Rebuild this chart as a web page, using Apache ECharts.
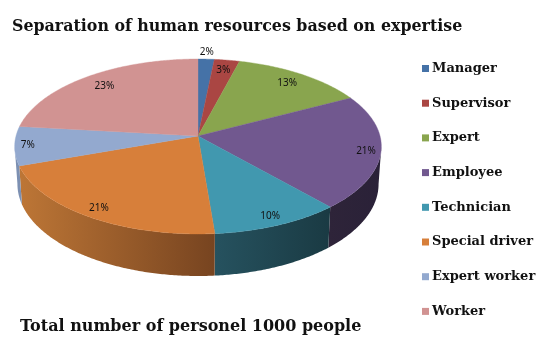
<!DOCTYPE html>
<html>
<head>
<meta charset="utf-8">
<style>
  html, body { margin: 0; padding: 0; background: #fff; }
  #chart { width: 548px; height: 362px; }
</style>
<script src="https://cdn.jsdelivr.net/npm/echarts@6/dist/echarts.min.js"></script>
</head>
<body>
<div id="chart"></div>
<script>
const categories = ['Manager', 'Supervisor', 'Expert', 'Employee', 'Technician', 'Special driver', 'Expert worker', 'Worker']
// people per group, total 1000
const people = [16, 25, 132, 212, 102, 209, 72, 232]
const chartTitle = 'Separation of human resources based on expertise'
const footNote = 'Total number of personel 1000 people'

const colors = ['#4572A7', '#AA4643', '#89A54E', '#71588F', '#4198AF', '#D77F3A', '#93A9CF', '#D19392']
const wallLeft = ['#39597f', '#7e3432', '#66793a', '#2e2439', '#26525f', '#bd7636', '#7c90b2', '#9c6e6d']
const wallRight = ['#39597f', '#7e3432', '#66793a', '#2a2138', '#1a3a43', '#774420', '#7c90b2', '#9c6e6d']
// how far along the radius each percent label sits
const labelRadius = [1.1, 0.86, 0.85, 0.92, 0.91, 0.91, 0.93, 0.83]

const total = people.reduce((a, b) => a + b, 0)

// tilted disc with a bit of perspective
const cx = 198
const cy = 136
const A = 182
const B = 86.2
const K = 0.12
const depth = 37

const project = (theta, r, low) => {
    const u = r * Math.sin(theta)
    const v = r * Math.cos(theta)
    const w = 1 + K * v
    const shrink = low ? 0.985 : 1
    return [
        cx + shrink * A * u / w,
        cy - B * v / w + (low ? depth / w : 0)
    ]
}

const arc = (from, to, r, low) => {
    const pts = []
    const n = Math.max(2, Math.ceil((to - from) / 0.01))
    for (let i = 0; i <= n; i++) {
        pts.push(project(from + (to - from) * i / n, r, low))
    }
    return pts
}

// rim stays visible between these two angles
const wallFrom = Math.acos(-K)
const wallTo = 2 * Math.PI - wallFrom

const makeSlice = (i) => (params, api) => {
    const before = people.slice(0, i).reduce((a, b) => a + b, 0)
    const start = before / total * 2 * Math.PI
    const end = (before + api.value(0)) / total * 2 * Math.PI
    const mid = (start + end) / 2
    const children = []

    const a = Math.max(start, wallFrom)
    const b = Math.min(end, wallTo)
    if (b > a) {
        const upper = arc(a, b, 1, false)
        const lower = arc(a, b, 1, true).reverse()
        const xs = upper.concat(lower).map(p => p[0])
        children.push({
            type: 'polygon',
            shape: { points: upper.concat(lower) },
            style: {
                fill: new echarts.graphic.LinearGradient(
                    Math.min(...xs), 0, Math.max(...xs), 0,
                    [
                        { offset: 0, color: wallLeft[i] },
                        { offset: 1, color: wallRight[i] }
                    ],
                    true
                )
            }
        })
    }

    children.push({
        type: 'polygon',
        shape: { points: [[cx, cy]].concat(arc(start, end, 1, false)) },
        style: { fill: colors[i], stroke: colors[i], lineWidth: 0.4 }
    })

    const at = project(mid, labelRadius[i], false)
    children.push({
        type: 'text',
        z2: 10,
        style: {
            x: at[0],
            y: at[1],
            text: Math.round(api.value(0) / total * 100) + '%',
            fill: '#111',
            font: '10px "Noto Sans"',
            align: 'center',
            verticalAlign: 'middle'
        }
    })
    return { type: 'group', children }
}

const chart = echarts.init(document.getElementById('chart'), null, { renderer: 'canvas' })
chart.setOption({
    animation: false,
    backgroundColor: '#fff',
    title: [
        {
            text: chartTitle,
            left: 12,
            top: 19,
            padding: 0,
            textStyle: { fontFamily: 'DejaVu Serif', fontSize: 15.85, fontWeight: 'bold', color: '#111' }
        },
        {
            text: footNote,
            left: 20,
            top: 319,
            padding: 0,
            textStyle: { fontFamily: 'DejaVu Serif', fontSize: 16, fontWeight: 'bold', color: '#111' }
        }
    ],
    legend: {
        orient: 'vertical',
        left: 422,
        top: 62,
        padding: 0,
        icon: 'rect',
        itemWidth: 7,
        itemHeight: 7,
        itemGap: 21.7,
        textStyle: {
            fontFamily: 'DejaVu Serif',
            fontSize: 13,
            fontWeight: 'bold',
            color: '#111',
            padding: [0, 0, 0, -2]
        },
        data: categories
    },
    series: categories.map((name, i) => ({
        type: 'custom',
        name,
        coordinateSystem: 'none',
        silent: true,
        itemStyle: { color: colors[i] },
        data: [[people[i]]],
        renderItem: makeSlice(i)
    }))
})
</script>
</body>
</html>
